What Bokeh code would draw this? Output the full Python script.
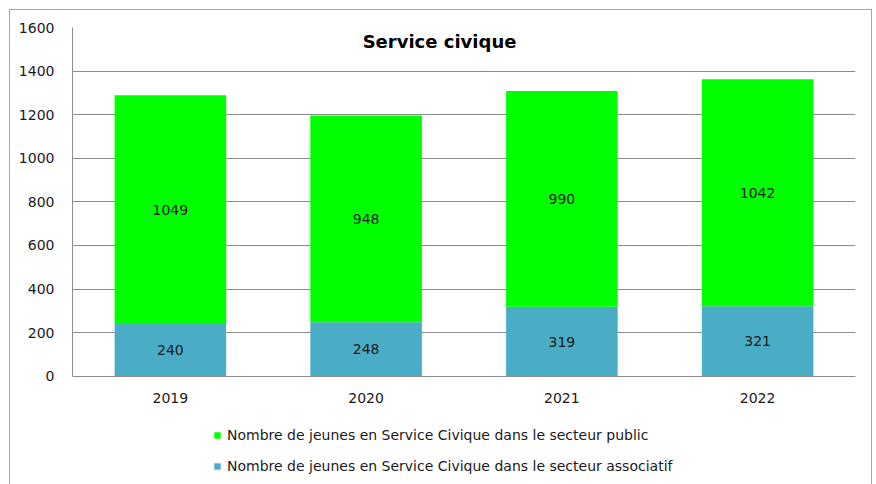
from bokeh.plotting import figure
from bokeh.models import FactorRange, ColumnDataSource, Legend, LegendItem, Label, LabelSet
from bokeh.core.properties import value
from bokeh.embed import file_html
from bokeh.resources import INLINE

years = ["2019", "2020", "2021", "2022"]
associatif = [240, 248, 319, 321]
public = [1049, 948, 990, 1042]
y_ticks = [0, 200, 400, 600, 800, 1000, 1200, 1400, 1600]
title_text = "Service civique"
label_public = "Nombre de jeunes en Service Civique dans le secteur public"
label_assoc = "Nombre de jeunes en Service Civique dans le secteur associatif"

GREEN = "#00FF00"
BLUE = "#4BACC6"
FONT = "DejaVu Sans"

src = ColumnDataSource(dict(
    years=years,
    assoc=associatif,
    public=public,
    assoc_mid=[a / 2 for a in associatif],
    public_top=[a + b for a, b in zip(associatif, public)],
    public_mid=[a + b / 2 for a, b in zip(associatif, public)],
    assoc_txt=[str(a) for a in associatif],
    public_txt=[str(b) for b in public],
))

# frame extends below 0 to host the legend; the x axis sits at y=0
p = figure(x_range=FactorRange(factors=years, range_padding=0), y_range=(-501, 1600),
           width=863, height=475, output_backend="svg", toolbar_location=None,
           min_border_left=62, min_border_right=18, min_border_top=17, min_border_bottom=0)
p.styles = {"border": "1px solid #a6a6a6", "border-bottom": "none", "margin": "9px 0 0 9px"}
p.outline_line_color = None
p.background_fill_color = "white"

r_assoc = p.vbar(x="years", bottom=0, top="assoc", width=0.57, source=src,
                 fill_color=BLUE, line_color=None)
r_pub = p.vbar(x="years", bottom="assoc", top="public_top", width=0.57, source=src,
               fill_color=GREEN, line_color=None)

for col_y, col_t in (("assoc_mid", "assoc_txt"), ("public_mid", "public_txt")):
    ls = LabelSet(x="years", y=col_y, text=col_t, source=src, text_align="center",
                  text_baseline="middle", text_font=value(FONT), text_font_size="14px",
                  text_color="#1a1a1a")
    p.add_layout(ls)

p.add_layout(Label(x=1.875, y=1536, text=title_text, text_align="center", text_baseline="middle",
                   text_font=FONT, text_font_size="18px", text_font_style="bold",
                   text_color="#000000"))

p.yaxis.ticker = y_ticks
p.yaxis.bounds = (0, 1600)
p.yaxis.axis_line_color = "#8c8c8c"
p.yaxis.major_tick_line_color = None
p.yaxis.minor_tick_line_color = None
p.yaxis.major_label_standoff = 12
p.yaxis.major_label_text_font = FONT
p.yaxis.major_label_text_font_size = "14px"
p.yaxis.major_label_text_color = "#1a1a1a"

p.xaxis.fixed_location = 0
p.xaxis.axis_line_color = "#8c8c8c"
p.xaxis.major_tick_line_color = None
p.xaxis.minor_tick_line_color = None
p.xaxis.major_label_standoff = 11
p.xaxis.major_label_text_font = FONT
p.xaxis.major_label_text_font_size = "14px"
p.xaxis.major_label_text_color = "#1a1a1a"

p.xgrid.grid_line_color = None
p.ygrid.ticker = y_ticks
p.ygrid.grid_line_color = "#8c8c8c"
p.ygrid.grid_line_width = 1

legend = Legend(items=[LegendItem(label=label_public, renderers=[r_pub]),
                       LegendItem(label=label_assoc, renderers=[r_assoc])],
                orientation="vertical", location=(141, 9),
                glyph_width=8, glyph_height=8, label_standoff=6,
                label_text_font=FONT, label_text_font_size="14px", label_text_color="#1a1a1a",
                label_height=20, spacing=11, padding=2, margin=0,
                border_line_color=None, background_fill_alpha=0)
p.add_layout(legend)

open("out.html", "w").write(file_html(p, INLINE))
